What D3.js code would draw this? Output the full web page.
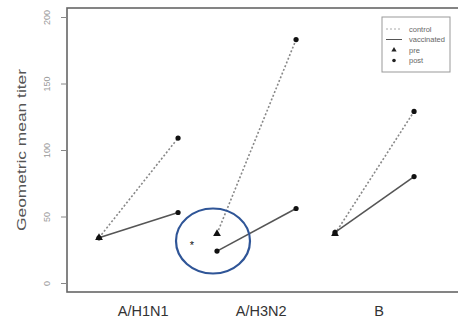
<!DOCTYPE html>
<html lang="en">
<head>
<meta charset="UTF-8">
<title>Geometric mean titer</title>
<script src="https://d3js.org/d3.v7.min.js"></script>
<style>
  body { margin: 0; background: #fff; font-family: "Liberation Sans", Arial, sans-serif; }
  svg { display: block; }
</style>
</head>
<body>
<svg id="chart" width="458" height="323"></svg>
<script>
// data
const strains = ["A/H1N1", "A/H3N2", "B"];
const controlPre = [34, 37, 37];
const controlPost = [109, 183, 129];
const vaccPre = [34, 24, 38];
const vaccPost = [53, 56, 80];
const yTicks = [0, 50, 100, 150, 200];
const legendLabels = ["control", "vaccinated", "pre", "post"];

const svg = d3.select("#chart");

// plot box
const box = { left: 67, top: 8, right: 462, bottom: 292 };

const y = d3.scaleLinear().domain([0, 200]).range([283, 17]);
const x = d3.scaleLinear().domain([1, 3]).range([99, 335]);
const postOffset = 0.67;
const labelOffset = 0.37;

svg.append("rect")
  .attr("x", box.left).attr("y", box.top)
  .attr("width", box.right - box.left).attr("height", box.bottom - box.top)
  .attr("fill", "none").attr("stroke", "#666").attr("stroke-width", 1.6);

// y axis
const yAxis = svg.append("g")
  .attr("transform", `translate(${box.left},0)`)
  .call(d3.axisLeft(y).tickValues(yTicks).tickSize(6).tickSizeOuter(0));
yAxis.select(".domain").remove();
yAxis.selectAll(".tick line").attr("stroke", "#888");
yAxis.selectAll(".tick text")
  .attr("fill", "#999").attr("font-size", 9)
  .attr("font-family", "Liberation Sans, Arial, sans-serif")
  .attr("text-anchor", "middle")
  .attr("x", 0).attr("y", 0).attr("dy", "0.35em")
  .attr("transform", "translate(-20,0) rotate(-90)");

svg.append("text")
  .attr("transform", `translate(21,${(box.top + box.bottom) / 2}) rotate(-90)`)
  .attr("text-anchor", "middle").attr("dy", "0.35em")
  .attr("font-size", 13).attr("fill", "#555")
  .attr("textLength", 162).attr("lengthAdjust", "spacingAndGlyphs")
  .text("Geometric mean titer");

// x labels
const xAxis = svg.append("g")
  .attr("transform", `translate(0,${box.bottom})`)
  .call(d3.axisBottom(x).tickValues([1, 2, 3].map(d => d + labelOffset))
    .tickFormat((d, i) => strains[i]).tickSize(0).tickPadding(14));
xAxis.select(".domain").remove();
xAxis.selectAll(".tick text")
  .attr("font-size", 14.5).attr("fill", "#333")
  .attr("font-family", "Liberation Sans, Arial, sans-serif");

// lines
const rows = strains.map((s, i) => ({
  i: i + 1,
  cPre: controlPre[i], cPost: controlPost[i],
  vPre: vaccPre[i], vPost: vaccPost[i]
}));

svg.selectAll(".ctrl").data(rows).enter().append("line")
  .attr("x1", d => x(d.i)).attr("y1", d => y(d.cPre))
  .attr("x2", d => x(d.i + postOffset)).attr("y2", d => y(d.cPost))
  .attr("stroke", "#888").attr("stroke-width", 1.6).attr("stroke-dasharray", "2,2");

svg.selectAll(".vacc").data(rows).enter().append("line")
  .attr("x1", d => x(d.i)).attr("y1", d => y(d.vPre))
  .attr("x2", d => x(d.i + postOffset)).attr("y2", d => y(d.vPost))
  .attr("stroke", "#555").attr("stroke-width", 1.6);

// markers
const tri = d3.symbol().type(d3.symbolTriangle).size(26);
svg.selectAll(".tri").data(rows).enter().append("path")
  .attr("d", tri)
  .attr("transform", d => `translate(${x(d.i)},${y(d.cPre)})`)
  .attr("fill", "#111");

const dots = [];
rows.forEach(d => {
  dots.push([d.i, d.vPre]);
  dots.push([d.i + postOffset, d.cPost]);
  dots.push([d.i + postOffset, d.vPost]);
});
svg.selectAll(".dot").data(dots).enter().append("circle")
  .attr("cx", d => x(d[0])).attr("cy", d => y(d[1]))
  .attr("r", 2.6).attr("fill", "#111");

// legend
const lg = svg.append("g").attr("transform", "translate(382,17)");
lg.append("rect").attr("width", 68).attr("height", 55)
  .attr("fill", "#fff").attr("stroke", "#999").attr("stroke-width", 1);
legendLabels.forEach((t, k) => {
  const ly = 12 + k * 10.5;
  if (k < 2) {
    lg.append("line").attr("x1", 4).attr("x2", 20).attr("y1", ly).attr("y2", ly)
      .attr("stroke", k === 0 ? "#aaa" : "#555").attr("stroke-width", 1)
      .attr("stroke-dasharray", k === 0 ? "2,2" : null);
  } else if (k === 2) {
    lg.append("path").attr("d", d3.symbol().type(d3.symbolTriangle).size(12))
      .attr("transform", `translate(12,${ly})`).attr("fill", "#222");
  } else {
    lg.append("circle").attr("cx", 12).attr("cy", ly).attr("r", 1.8).attr("fill", "#222");
  }
  lg.append("text").attr("x", 27).attr("y", ly).attr("dy", "0.35em")
    .attr("font-size", 7.5).attr("fill", "#666").text(t);
});

// annotation
svg.append("ellipse")
  .attr("cx", 213).attr("cy", 241).attr("rx", 37).attr("ry", 32.5)
  .attr("fill", "none").attr("stroke", "#2f5597").attr("stroke-width", 2.2);
svg.append("text").attr("x", 192).attr("y", 243).attr("dy", "0.55em")
  .attr("text-anchor", "middle").attr("font-size", 11).attr("fill", "#111").text("*");
</script>
</body>
</html>
